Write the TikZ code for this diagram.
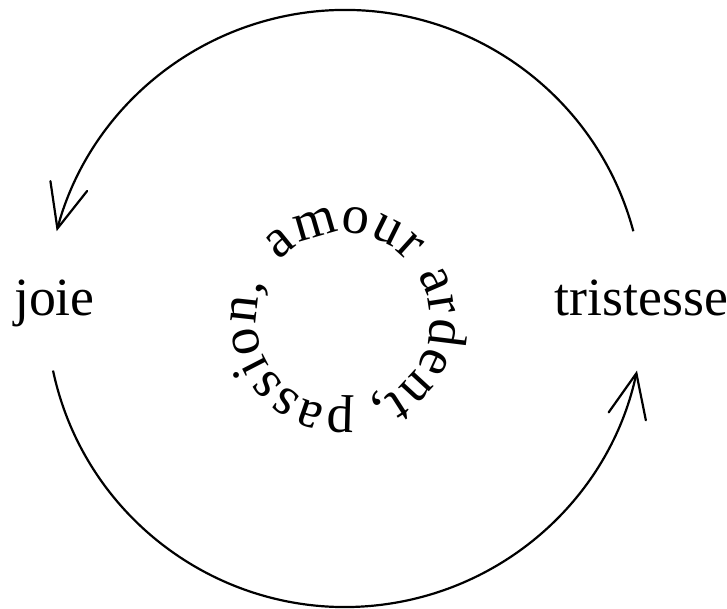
\documentclass[tikz,border=0pt]{standalone}
\usepackage{fontspec}
\setmainfont{Liberation Serif}
\usetikzlibrary{arrows.meta, decorations.text}

\begin{document}
\begin{tikzpicture}[x=1bp, y=1bp, line width=2.2bp,
  big/.style={font=\fontsize{54}{60}\selectfont, inner sep=0pt},
  cycle/.style={-{Straight Barb[length=44bp, width=38bp, line cap=round]}}]
  \useasboundingbox (0,0) rectangle (727,609);

  % centres of the two circles
  \coordinate (mid) at (345,300.5);
  \coordinate (core) at (343,289);

  % the two feelings
  \node[big, anchor=base west] (joie) at (13,293) {joie};
  \node[big, anchor=base east] (tristesse) at (729,293) {tristesse};

  % the cycle between them
  \draw[cycle] ([shift={(15:298.5)}]mid) arc[start angle=15, end angle=165, radius=298.5];
  \draw[cycle] ([shift={(192:298.5)}]mid) arc[start angle=192, end angle=348, radius=298.5];

  % words round the core
  \path[decorate, decoration={text along path, text align=fit to path,
        text={|\fontsize{55}{60}\selectfont|amour ardent, passion,}}]
       ([shift={(137:87)}]core) arc[start angle=137, end angle=-205, radius=87];
\end{tikzpicture}
\end{document}
